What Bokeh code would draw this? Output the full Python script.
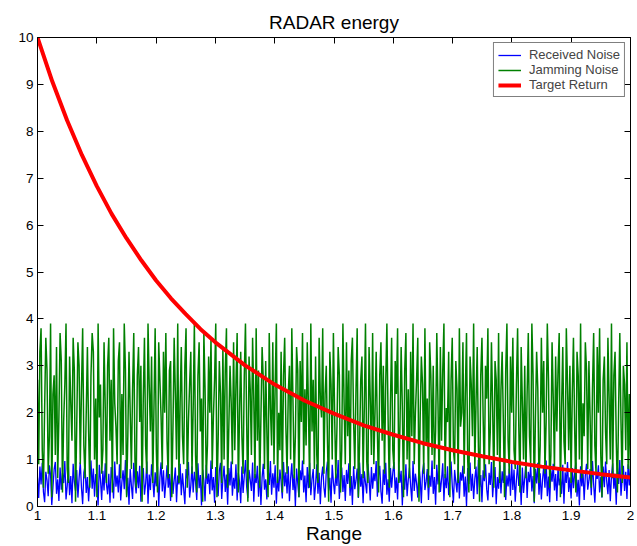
from bokeh.plotting import figure
from bokeh.models import LinearAxis, Range1d, Legend, LegendItem, FixedTicker
from bokeh.embed import file_html
from bokeh.resources import INLINE

# ---- data ----
x_start, x_end = 1.0, 2.0
x_ticks = [1.0, 1.1, 1.2, 1.3, 1.4, 1.5, 1.6, 1.7, 1.8, 1.9, 2.0]
x_tick_labels = ["1", "1.1", "1.2", "1.3", "1.4", "1.5", "1.6", "1.7", "1.8", "1.9", "2"]
y_ticks = [0, 1, 2, 3, 4, 5, 6, 7, 8, 9, 10]

target_x = [1.0, 1.025, 1.05, 1.075, 1.1, 1.125, 1.15, 1.175, 1.2, 1.225, 1.25, 1.275, 1.3,
            1.35, 1.4, 1.45, 1.5, 1.55, 1.6, 1.65, 1.7, 1.75, 1.8, 1.85, 1.9, 1.95, 2.0]
target_y = [10.0, 9.06, 8.23, 7.49, 6.83, 6.24, 5.72, 5.25, 4.82, 4.44, 4.10, 3.78, 3.50,
            3.01, 2.60, 2.26, 1.98, 1.73, 1.53, 1.35, 1.20, 1.07, 0.95, 0.85, 0.77, 0.69, 0.62]

jamming = [
    2.7, 0.9, 3.3, 3.8, 1.2, 0.4, 2.1, 3.6, 2.9, 0.7, 1.5, 3.9, 0.2, 2.4, 2.8, 1.1, 3.4, 0.6, 1.9, 3.7,
    3.1, 0.3, 1.8, 2.6, 3.9, 0.8, 0.5, 3.2, 2.2, 1.4, 3.6, 2.9, 0.1, 1.7, 3.5, 3.0, 0.9, 2.5, 3.8, 1.3,
    0.6, 2.0, 3.4, 1.6, 0.4, 2.8, 3.7, 3.3, 1.0, 2.3, 0.2, 3.9, 1.9, 2.6, 0.7, 1.2, 3.5, 2.1, 0.5, 3.0,
    3.6, 1.4, 2.7, 0.3, 3.8, 2.2, 1.7, 0.9, 3.1, 3.5, 0.6, 2.4, 1.1, 3.9, 2.9, 0.2, 1.5, 3.3, 2.0, 0.8,
    2.5, 3.7, 1.0, 0.4, 2.8, 3.4, 1.8, 3.0, 0.1, 2.3, 3.6, 1.3, 0.7, 3.9, 2.6, 1.6, 3.2, 0.5, 2.1, 3.8,
    1.2, 0.3, 3.5, 2.7, 1.9, 0.8, 3.3, 2.0, 3.7, 1.4, 0.6, 2.9, 3.1, 0.2, 1.7, 3.6, 2.4, 1.0, 3.9, 0.5,
    2.2, 3.4, 1.5, 0.9, 3.0, 3.8, 0.4, 1.8, 2.6, 3.3, 0.7, 2.1, 3.9, 1.1, 0.3, 2.8, 3.5, 1.6, 2.3, 0.1,
    3.7, 2.5, 0.6, 1.3, 3.2, 2.0, 3.6, 0.8, 1.9, 2.7, 3.9, 0.2, 1.4, 3.1, 2.4, 0.5, 3.4, 1.0, 2.9, 3.8,
    0.4, 1.7, 3.0, 2.2, 0.9, 3.5, 1.2, 2.6, 3.7, 0.3, 2.0, 3.3, 1.5, 0.7, 2.8, 3.9, 1.8, 0.1, 3.2, 2.5,
    1.1, 3.6, 2.3, 0.6, 3.8, 1.4, 2.9, 0.4, 1.9, 3.4, 2.7, 0.8, 3.1, 1.6, 0.2, 3.7, 2.1, 1.3, 3.5, 0.9,
    2.6, 3.9, 0.5, 2.0, 1.2, 3.3, 0.3, 2.8, 3.6, 1.7, 0.7, 2.4, 3.0, 1.0, 3.8, 2.2, 0.6, 1.5, 3.4, 2.9,
    0.2, 3.1, 1.8, 3.7, 0.9, 2.5, 1.3, 3.5, 2.1, 0.4, 3.9, 1.6, 2.7, 0.8, 3.2, 1.1, 0.5, 3.6, 2.3, 1.9,
    3.8, 0.7, 2.4, 3.0, 1.4, 0.1, 3.3, 2.6, 1.0, 3.7, 2.0, 0.6, 1.7, 3.4, 2.8, 0.3, 1.2, 3.9, 2.2, 0.9,
    3.5, 1.5, 2.9, 0.4, 3.1, 3.6, 1.8, 0.8, 2.5, 3.8, 0.2, 1.3, 2.7, 3.2, 0.6, 2.1, 3.9, 1.0, 0.5, 3.4,
    2.3, 1.1, 3.7, 0.9, 2.0, 3.3, 1.6, 0.3, 2.8, 3.5, 1.4, 3.0, 0.7, 2.6, 3.9, 1.9, 0.4, 2.2, 3.6, 1.2,
    0.8, 3.1, 2.4, 3.8, 0.5, 1.7, 3.4, 2.1, 0.2, 2.9, 3.7, 1.0, 2.5, 0.6, 3.3, 1.5, 3.9, 0.9, 2.0, 2.7,
    3.6, 0.1, 1.9, 3.2, 2.6, 0.7, 3.8, 1.3, 2.3, 0.4, 3.5, 2.8, 1.1, 3.0, 0.8, 1.6, 3.7, 2.2, 0.3, 3.4,
    1.4, 2.9, 3.9, 0.6, 2.1, 1.8, 3.3, 0.2, 2.7, 3.6, 1.2, 0.9, 3.1, 2.5, 0.5, 3.8, 1.7, 2.0, 3.5, 0.7,
    2.4, 3.7, 1.0, 0.3, 3.2, 2.6, 1.5, 3.9, 0.8, 2.2, 3.4, 1.3, 0.1, 2.8, 3.6, 1.9, 0.6, 3.0, 2.3, 3.8,
    0.9, 1.6, 3.5, 2.1, 0.4, 3.1, 2.7, 1.1, 3.7, 0.5, 2.5, 3.3, 1.8, 0.2, 2.9, 3.9, 1.4, 0.7, 3.2, 2.0,
    3.6, 1.2, 0.8, 2.6, 3.8, 1.7, 0.3, 3.4, 2.2, 1.0, 3.0, 0.6, 2.4, 3.7, 1.5, 0.9, 3.9, 2.8, 0.1, 1.9,
    3.3, 2.5, 0.5, 1.3, 3.6, 2.0, 3.1, 0.7, 1.8, 3.9, 2.7, 0.4, 1.1, 3.5, 2.3, 0.8, 3.2, 1.6, 2.9, 3.7,
    0.2, 2.1, 3.4, 1.4, 0.9, 3.8, 2.6, 1.2, 3.0, 0.5, 2.4, 3.6, 1.7, 0.3, 3.3, 2.8, 1.0, 3.9, 0.6, 2.2,
    1.5, 3.5, 2.9, 0.8, 3.1, 1.9, 0.4, 2.5, 3.7, 1.3, 0.7, 3.4, 2.0, 3.8, 1.1, 0.2, 2.7, 3.2, 1.6, 0.9,
    3.6, 2.3, 1.0, 3.9, 0.6, 2.8, 3.3, 1.4, 0.3, 2.1, 3.7, 1.8, 0.5, 3.0, 2.6, 1.2, 3.5, 0.8, 2.4, 0.6,
]

received = [
    0.62, 0.18, 0.85, 0.47, 0.93, 0.31, 0.09, 0.74, 0.56, 0.22, 0.88, 0.67, 0.03, 0.41, 0.79, 0.95, 0.27, 0.58, 0.12, 0.83,
    0.36, 0.71, 0.50, 0.97, 0.15, 0.44, 0.86, 0.24, 0.65, 0.07, 0.91, 0.53, 0.33, 0.78, 0.19, 0.60, 0.94, 0.40, 0.05, 0.72,
    0.87, 0.29, 0.63, 0.11, 0.55, 0.98, 0.38, 0.81, 0.21, 0.69, 0.46, 0.02, 0.89, 0.57, 0.14, 0.76, 0.34, 0.92, 0.48, 0.26,
    0.70, 0.08, 0.84, 0.59, 0.17, 0.96, 0.42, 0.66, 0.30, 0.90, 0.13, 0.52, 0.77, 0.37, 0.99, 0.23, 0.61, 0.04, 0.80, 0.45,
    0.16, 0.93, 0.54, 0.28, 0.75, 0.39, 0.87, 0.10, 0.64, 0.82, 0.25, 0.49, 0.96, 0.06, 0.68, 0.35, 0.90, 0.58, 0.20, 0.73,
    0.43, 0.85, 0.01, 0.62, 0.94, 0.32, 0.77, 0.18, 0.51, 0.88, 0.40, 0.69, 0.12, 0.97, 0.27, 0.56, 0.83, 0.09, 0.66, 0.47,
    0.91, 0.24, 0.71, 0.37, 0.05, 0.80, 0.60, 0.95, 0.19, 0.44, 0.86, 0.30, 0.74, 0.53, 0.14, 0.92, 0.39, 0.67, 0.02, 0.79,
    0.55, 0.11, 0.89, 0.48, 0.70, 0.26, 0.98, 0.34, 0.63, 0.08, 0.84, 0.41, 0.22, 0.76, 0.93, 0.16, 0.59, 0.87, 0.31, 0.68,
    0.04, 0.82, 0.45, 0.96, 0.23, 0.61, 0.38, 0.90, 0.13, 0.72, 0.52, 0.07, 0.85, 0.29, 0.65, 0.99, 0.42, 0.18, 0.78, 0.57,
    0.33, 0.94, 0.10, 0.69, 0.50, 0.87, 0.21, 0.75, 0.03, 0.62, 0.91, 0.36, 0.58, 0.15, 0.83, 0.46, 0.97, 0.25, 0.71, 0.40,
    0.88, 0.06, 0.64, 0.32, 0.79, 0.53, 0.17, 0.95, 0.43, 0.73, 0.28, 0.86, 0.11, 0.60, 0.92, 0.35, 0.68, 0.01, 0.81, 0.49,
    0.20, 0.77, 0.56, 0.98, 0.30, 0.66, 0.09, 0.84, 0.39, 0.93, 0.24, 0.59, 0.80, 0.14, 0.47, 0.90, 0.27, 0.72, 0.05, 0.63,
    0.85, 0.41, 0.19, 0.74, 0.96, 0.34, 0.61, 0.08, 0.89, 0.52, 0.26, 0.70, 0.44, 0.99, 0.16, 0.57, 0.83, 0.31, 0.67, 0.12,
    0.78, 0.48, 0.92, 0.23, 0.65, 0.03, 0.86, 0.37, 0.55, 0.81, 0.18, 0.94, 0.42, 0.69, 0.07, 0.75, 0.50, 0.28, 0.91, 0.60,
    0.13, 0.84, 0.38, 0.71, 0.54, 0.97, 0.21, 0.64, 0.87, 0.32, 0.06, 0.79, 0.46, 0.93, 0.25, 0.58, 0.10, 0.82, 0.40, 0.73,
    0.95, 0.29, 0.62, 0.15, 0.88, 0.51, 0.76, 0.02, 0.68, 0.36, 0.90, 0.22, 0.57, 0.83, 0.44, 0.11, 0.97, 0.33, 0.70, 0.49,
    0.19, 0.85, 0.60, 0.07, 0.74, 0.93, 0.35, 0.53, 0.80, 0.14, 0.66, 0.42, 0.98, 0.27, 0.63, 0.04, 0.89, 0.47, 0.76, 0.31,
    0.57, 0.92, 0.12, 0.69, 0.39, 0.86, 0.24, 0.61, 0.96, 0.45, 0.08, 0.78, 0.52, 0.30, 0.91, 0.17, 0.73, 0.55, 0.87, 0.21,
    0.64, 0.01, 0.82, 0.48, 0.94, 0.33, 0.70, 0.16, 0.59, 0.85, 0.26, 0.99, 0.41, 0.67, 0.09, 0.77, 0.54, 0.90, 0.37, 0.13,
    0.72, 0.46, 0.95, 0.20, 0.58, 0.84, 0.05, 0.63, 0.38, 0.88, 0.28, 0.75, 0.50, 0.97, 0.14, 0.66, 0.43, 0.81, 0.23, 0.92,
    0.35, 0.79, 0.10, 0.56, 0.90, 0.44, 0.68, 0.03, 0.83, 0.29, 0.61, 0.96, 0.18, 0.74, 0.52, 0.87, 0.32, 0.65, 0.07, 0.80,
    0.49, 0.93, 0.25, 0.71, 0.15, 0.58, 0.86, 0.40, 0.98, 0.22, 0.64, 0.09, 0.77, 0.53, 0.91, 0.34, 0.69, 0.12, 0.84, 0.45,
    0.60, 0.27, 0.89, 0.06, 0.73, 0.50, 0.95, 0.31, 0.62, 0.17, 0.82, 0.39, 0.70, 0.94, 0.21, 0.57, 0.02, 0.86, 0.43, 0.76,
    0.14, 0.67, 0.91, 0.36, 0.55, 0.80, 0.24, 0.97, 0.47, 0.08, 0.72, 0.59, 0.88, 0.30, 0.63, 0.19, 0.85, 0.41, 0.96, 0.53,
    0.26, 0.78, 0.11, 0.65, 0.92, 0.38, 0.70, 0.04, 0.83, 0.48, 0.99, 0.23, 0.61, 0.87, 0.33, 0.74, 0.16, 0.90, 0.45, 0.87,
]

FONT = "Liberation Sans"

n_j = len(jamming)
n_r = len(received)
jam_x = [x_start + (x_end - x_start) * i / (n_j - 1) for i in range(n_j)]
rec_x = [x_start + (x_end - x_start) * i / (n_r - 1) for i in range(n_r)]

p = figure(width=634, height=546, output_backend="svg", toolbar_location=None,
           x_range=Range1d(x_start, x_end), y_range=Range1d(0, 10),
           min_border_left=37, min_border_right=4, min_border_top=37, min_border_bottom=40,
           title="RADAR energy", x_axis_label="Range")

p.title.text_font = FONT
p.title.text_font_size = "19px"
p.title.text_font_style = "normal"
p.title.text_color = "black"
p.title.align = "center"
p.title.standoff = 10
p.title.offset = 0

p.xgrid.visible = False
p.ygrid.visible = False
p.outline_line_color = "black"
p.outline_line_width = 1
p.background_fill_color = "white"

r_rec = p.line(rec_x, received, line_color="#0000ff", line_width=1.3)
r_jam = p.line(jam_x, jamming, line_color="#008000", line_width=1.5)
r_tgt = p.line(target_x, target_y, line_color="#ff0000", line_width=4)

def style_axis(ax, show_labels):
    ax.axis_line_color = "black"
    ax.axis_line_width = 1
    ax.major_tick_in = 6
    ax.major_tick_out = 0
    ax.minor_tick_line_color = None
    ax.major_tick_line_color = "black"
    ax.major_label_text_font = FONT
    if show_labels:
        ax.major_label_text_color = "black"
        ax.major_label_text_font_size = "13.5px"
        ax.major_label_standoff = 4
    else:
        ax.major_label_text_color = None
        ax.major_label_text_font_size = "1px"
        ax.major_label_standoff = 0

xa = p.xaxis[0]
xa.ticker = FixedTicker(ticks=x_ticks)
xa.major_label_overrides = {t: l for t, l in zip(x_ticks, x_tick_labels)}
style_axis(xa, True)
xa.axis_label_text_font = FONT
xa.axis_label_text_font_size = "19px"
xa.axis_label_text_font_style = "normal"
xa.axis_label_text_color = "black"
xa.axis_label_standoff = 0

ya = p.yaxis[0]
ya.ticker = FixedTicker(ticks=y_ticks)
style_axis(ya, True)

top = LinearAxis(ticker=FixedTicker(ticks=x_ticks))
style_axis(top, False)
p.add_layout(top, "above")
right = LinearAxis(ticker=FixedTicker(ticks=y_ticks))
style_axis(right, False)
p.add_layout(right, "right")

legend = Legend(items=[
    LegendItem(label="Received Noise", renderers=[r_rec]),
    LegendItem(label="Jamming Noise", renderers=[r_jam]),
    LegendItem(label="Target Return", renderers=[r_tgt]),
], location="top_right")
legend.label_text_font = FONT
legend.label_text_font_size = "13px"
legend.label_height = 12
legend.glyph_height = 12
legend.glyph_width = 23
legend.label_standoff = 8
legend.spacing = -1
legend.padding = 4
legend.margin = 5
legend.border_line_color = "black"
legend.border_line_width = 1
legend.background_fill_color = "white"
legend.background_fill_alpha = 1
p.add_layout(legend)

open("out.html", "w").write(file_html(p, INLINE))
